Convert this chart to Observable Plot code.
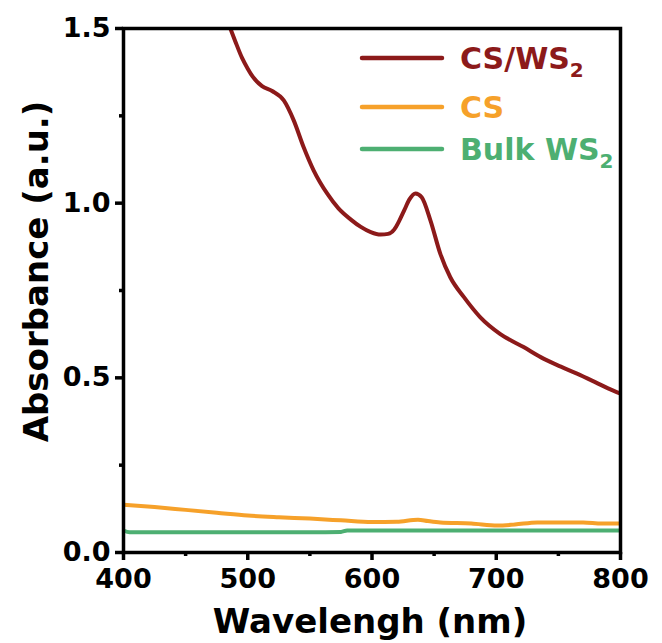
<!DOCTYPE html>
<html>
<head>
<meta charset="utf-8">
<script src="https://cdn.jsdelivr.net/npm/d3@7"></script>
<script src="https://cdn.jsdelivr.net/npm/@observablehq/plot@0.6"></script>
<style>
  html, body { margin: 0; padding: 0; background: #fff; }
  #chart svg { display: block; }
</style>
</head>
<body>
<div id="chart"></div>
<script>
// ---- Data ----
const seriesNames = ["CS/WS2", "CS", "Bulk WS2"];
const seriesColors = ["#8c1a1a", "#f6a12a", "#4daf72"];

const csws2Wavelength = [486, 490, 495.5, 500, 504, 511.5, 519.6, 529, 537, 545, 553, 564, 573, 583, 591, 599, 607, 613, 618, 622, 626, 630, 635, 640, 647, 655, 663, 674, 687, 703, 722, 738, 752, 765, 780, 790, 800];
const csws2Abs = [1.50, 1.463, 1.415, 1.385, 1.362, 1.335, 1.321, 1.294, 1.237, 1.160, 1.094, 1.027, 0.985, 0.953, 0.932, 0.917, 0.910, 0.912, 0.925, 0.950, 0.980, 1.010, 1.028, 1.017, 0.951, 0.855, 0.788, 0.731, 0.674, 0.626, 0.588, 0.555, 0.532, 0.512, 0.487, 0.470, 0.455];

const csWavelength = [400, 425, 450, 475, 500, 525, 550, 575, 600, 620, 637, 645, 655, 680, 701, 715, 733, 770, 785, 800];
const csAbs = [0.137, 0.130, 0.122, 0.114, 0.106, 0.101, 0.097, 0.092, 0.087, 0.088, 0.094, 0.090, 0.086, 0.083, 0.077, 0.080, 0.086, 0.086, 0.083, 0.083];

const bulkWavelength = [400, 405, 450, 500, 550, 575, 580, 600, 700, 800];
const bulkAbs = [0.063, 0.058, 0.058, 0.058, 0.058, 0.059, 0.063, 0.063, 0.063, 0.063];

const xMajorTicks = [400, 500, 600, 700, 800];
const xMinorTicks = [450, 550, 650, 750];
const yMajorTicks = [0.0, 0.5, 1.0, 1.5];
const yMinorTicks = [0.25, 0.75, 1.25];
const xLabel = "Wavelengh (nm)";
const yLabel = "Absorbance (a.u.)";

// ---- Build table ----
const rows = [];
csws2Wavelength.forEach((w, i) => rows.push({series: seriesNames[0], wl: w, abs: csws2Abs[i]}));
csWavelength.forEach((w, i) => rows.push({series: seriesNames[1], wl: w, abs: csAbs[i]}));
bulkWavelength.forEach((w, i) => rows.push({series: seriesNames[2], wl: w, abs: bulkAbs[i]}));

const FONT = "DejaVu Sans";

// Legend drawn as a render-function mark
function legendMark(index, scales, values, dims) {
  const g = d3.create("svg:g").attr("text-anchor", "start");
  const x0 = dims.width - dims.marginRight - 258;
  const rowY = [58, 107, 149];
  seriesNames.forEach((name, i) => {
    const y = rowY[i];
    g.append("line")
      .attr("x1", x0).attr("x2", x0 + 80)
      .attr("y1", y).attr("y2", y)
      .attr("stroke", seriesColors[i])
      .attr("stroke-width", 4.5)
      .attr("stroke-linecap", "round");
    const t = g.append("text")
      .attr("x", x0 + 98).attr("y", y + 11)
      .attr("text-anchor", "start")
      .attr("fill", seriesColors[i])
      .attr("font-family", FONT)
      .attr("font-weight", "bold")
      .attr("font-size", 30);
    const m = name.match(/^(.*?)(\d)$/);
    if (m) {
      t.append("tspan").text(m[1]);
      t.append("tspan").attr("font-size", 20).attr("dy", 8).text(m[2]);
    } else {
      t.text(name);
    }
  });
  return g.node();
}

const chart = Plot.plot({
  width: 662,
  height: 643,
  marginLeft: 123,
  marginRight: 42,
  marginTop: 28,
  marginBottom: 91,
  style: {fontFamily: FONT, fontWeight: "bold", background: "#fff", color: "#000"},
  x: {domain: [400, 800]},
  y: {domain: [0, 1.5]},
  color: {domain: seriesNames, range: seriesColors},
  marks: [
    Plot.line(rows, {x: "wl", y: "abs", z: "series", stroke: "series", strokeWidth: 4, curve: "monotone-x", strokeLinecap: "butt"}),
    Plot.frame({stroke: "#000", strokeWidth: 3.5}),
    Plot.axisX({ticks: xMajorTicks, tickSize: 8, tickPadding: 8, strokeWidth: 3.5, fontSize: 27, label: null, tickFormat: d3.format("d")}),
    Plot.axisX({ticks: xMinorTicks, tickSize: 4, strokeWidth: 3.5, tickFormat: () => "", label: null}),
    Plot.axisY({ticks: yMajorTicks, tickSize: 8, tickPadding: 5, strokeWidth: 3.5, fontSize: 27, label: null, tickFormat: d3.format(".1f")}),
    Plot.axisY({ticks: yMinorTicks, tickSize: 4, strokeWidth: 3.5, tickFormat: () => "", label: null}),
    Plot.text([yLabel], {text: d => d, frameAnchor: "left", rotate: -90, lineAnchor: "bottom", textAnchor: "middle", dx: -76, dy: -19, fontSize: 34, fontWeight: "bold", fill: "#000"}),
    Plot.text([xLabel], {text: d => d, frameAnchor: "bottom", lineAnchor: "bottom", textAnchor: "middle", dx: -2, dy: 80, fontSize: 34, fontWeight: "bold", fill: "#000"}),
    legendMark
  ]
});

document.getElementById("chart").appendChild(chart);
</script>
</body>
</html>
